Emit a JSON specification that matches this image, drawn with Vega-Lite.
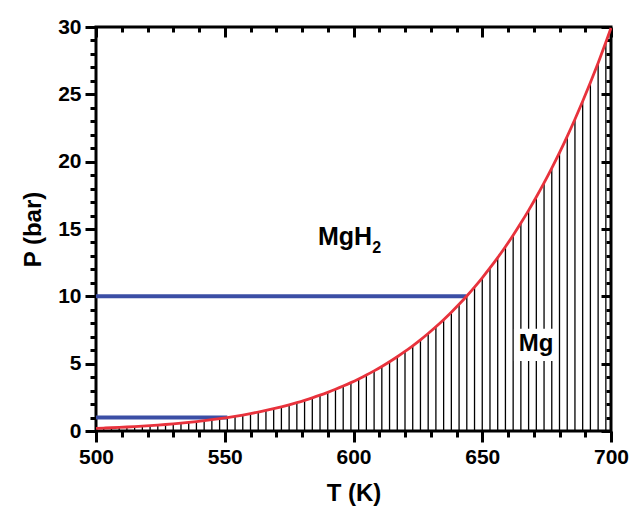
{
  "$schema": "https://vega.github.io/schema/vega-lite/v6.json",
  "width": 515,
  "height": 404,
  "autosize": "none",
  "padding": {"left": 96, "top": 27, "right": 20, "bottom": 77},
  "config": {
    "view": {"stroke": "black", "strokeWidth": 3},
    "font": "Liberation Sans",
    "axis": {"grid": false, "domain": false, "tickColor": "black", "tickWidth": 3, "labelOverlap": false, "labelFlush": false}
  },
  "datasets": {
    "curve": [
      {"T": 500, "P": 0.196}, {"T": 503, "P": 0.218}, {"T": 506, "P": 0.241}, {"T": 509, "P": 0.267},
      {"T": 512, "P": 0.296}, {"T": 515, "P": 0.327}, {"T": 518, "P": 0.361}, {"T": 521, "P": 0.398},
      {"T": 524, "P": 0.439}, {"T": 527, "P": 0.483}, {"T": 530, "P": 0.531}, {"T": 533, "P": 0.583},
      {"T": 536, "P": 0.639}, {"T": 539, "P": 0.700}, {"T": 542, "P": 0.766}, {"T": 545, "P": 0.838},
      {"T": 548, "P": 0.915}, {"T": 551, "P": 0.999}, {"T": 554, "P": 1.089}, {"T": 557, "P": 1.187},
      {"T": 560, "P": 1.291}, {"T": 563, "P": 1.404}, {"T": 566, "P": 1.525}, {"T": 569, "P": 1.656},
      {"T": 572, "P": 1.796}, {"T": 575, "P": 1.946}, {"T": 578, "P": 2.107}, {"T": 581, "P": 2.279},
      {"T": 584, "P": 2.463}, {"T": 587, "P": 2.660}, {"T": 590, "P": 2.871}, {"T": 593, "P": 3.096},
      {"T": 596, "P": 3.336}, {"T": 599, "P": 3.592}, {"T": 602, "P": 3.866}, {"T": 605, "P": 4.156},
      {"T": 608, "P": 4.465}, {"T": 611, "P": 4.794}, {"T": 614, "P": 5.144}, {"T": 617, "P": 5.515},
      {"T": 620, "P": 5.909}, {"T": 623, "P": 6.327}, {"T": 626, "P": 6.770}, {"T": 629, "P": 7.239},
      {"T": 632, "P": 7.736}, {"T": 635, "P": 8.262}, {"T": 638, "P": 8.819}, {"T": 641, "P": 9.408},
      {"T": 644, "P": 10.028}, {"T": 647, "P": 10.685}, {"T": 650, "P": 11.376}, {"T": 653, "P": 12.106},
      {"T": 656, "P": 12.876}, {"T": 659, "P": 13.686}, {"T": 662, "P": 14.540}, {"T": 665, "P": 15.439},
      {"T": 668, "P": 16.385}, {"T": 671, "P": 17.378}, {"T": 674, "P": 18.423}, {"T": 677, "P": 19.522},
      {"T": 680, "P": 20.673}, {"T": 683, "P": 21.884}, {"T": 686, "P": 23.152}, {"T": 689, "P": 24.482},
      {"T": 692, "P": 25.874}, {"T": 695, "P": 27.334}, {"T": 698, "P": 28.866}, {"T": 700, "P": 29.92}
    ],
    "iso": [
      {"P": 10, "T0": 500, "T1": 643.8},
      {"P": 1, "T0": 500, "T1": 551}
    ],
    "gap": [
      {"T0": 662.3, "T1": 679.4, "P0": 5.2, "P1": 7.6}
    ]
  },
  "resolve": {"axis": {"x": "independent", "y": "independent"}},
  "layer": [
    {
      "data": {"name": "curve"},
      "mark": {"type": "rule", "color": "black", "strokeWidth": 1.3},
      "encoding": {
        "x": {
          "field": "T", "type": "quantitative",
          "scale": {"domain": [500, 700], "nice": false, "zero": false},
          "axis": {
            "orient": "bottom",
            "values": [500,510,520,530,540,550,560,570,580,590,600,610,620,630,640,650,660,670,680,690,700],
            "labelExpr": "datum.value % 50 === 0 ? datum.label : ''",
            "tickSize": {"condition": {"test": "datum.value % 50 === 0", "value": 11}, "value": 6},
            "labelFont": "Liberation Sans", "labelFontWeight": "bold", "labelFontSize": 21, "labelColor": "black",
            "labelPadding": 4,
            "title": "T (K)", "titleFont": "Liberation Sans", "titleFontSize": 24, "titleFontWeight": "bold", "titleColor": "black",
            "titlePadding": 14
          }
        },
        "y": {
          "field": "P", "type": "quantitative",
          "scale": {"domain": [0, 30], "nice": false},
          "axis": {
            "orient": "left",
            "values": [0,1,2,3,4,5,6,7,8,9,10,11,12,13,14,15,16,17,18,19,20,21,22,23,24,25,26,27,28,29,30],
            "labelExpr": "datum.value % 5 === 0 ? datum.label : ''",
            "tickSize": {"condition": {"test": "datum.value % 5 === 0", "value": 11}, "value": 6},
            "labelFont": "Liberation Sans", "labelFontWeight": "bold", "labelFontSize": 21, "labelColor": "black",
            "labelPadding": 4,
            "title": "P (bar)", "titleFont": "Liberation Sans", "titleFontSize": 24, "titleFontWeight": "bold", "titleColor": "black",
            "titlePadding": 12
          }
        },
        "y2": {"datum": 0}
      }
    },
    {
      "data": {"name": "iso"},
      "mark": {"type": "rule", "color": "#3b4ea5", "strokeWidth": 4},
      "encoding": {
        "x": {"field": "T0", "type": "quantitative", "axis": null},
        "x2": {"field": "T1"},
        "y": {"field": "P", "type": "quantitative", "axis": null}
      }
    },
    {
      "data": {"name": "curve"},
      "mark": {"type": "line", "color": "#e8323c", "strokeWidth": 2.8, "interpolate": "monotone"},
      "encoding": {
        "x": {
          "field": "T", "type": "quantitative",
          "axis": {
            "orient": "top",
            "values": [500,510,520,530,540,550,560,570,580,590,600,610,620,630,640,650,660,670,680,690,700],
            "labels": false, "title": null,
            "tickSize": {"condition": {"test": "datum.value % 50 === 0", "value": -10}, "value": -5}
          }
        },
        "y": {
          "field": "P", "type": "quantitative",
          "axis": {
            "orient": "right",
            "values": [0,1,2,3,4,5,6,7,8,9,10,11,12,13,14,15,16,17,18,19,20,21,22,23,24,25,26,27,28,29,30],
            "labels": false, "title": null,
            "tickSize": {"condition": {"test": "datum.value % 5 === 0", "value": -10}, "value": -5}
          }
        }
      }
    },
    {
      "data": {"name": "gap"},
      "mark": {"type": "rect", "color": "white"},
      "encoding": {
        "x": {"field": "T0", "type": "quantitative", "axis": null},
        "x2": {"field": "T1"},
        "y": {"field": "P0", "type": "quantitative", "axis": null},
        "y2": {"field": "P1"}
      }
    },
    {
      "data": {"values": [{"T": 586.2, "P": 13.81, "label": "MgH"}]},
      "mark": {"type": "text", "align": "left", "baseline": "alphabetic", "font": "Liberation Sans", "fontWeight": "bold", "fontSize": 25, "color": "black"},
      "encoding": {
        "x": {"field": "T", "type": "quantitative", "axis": null},
        "y": {"field": "P", "type": "quantitative", "axis": null},
        "text": {"field": "label"}
      }
    },
    {
      "data": {"values": [{"T": 607.3, "P": 13.2, "label": "2"}]},
      "mark": {"type": "text", "align": "left", "baseline": "alphabetic", "font": "Liberation Sans", "fontWeight": "bold", "fontSize": 16, "color": "black"},
      "encoding": {
        "x": {"field": "T", "type": "quantitative", "axis": null},
        "y": {"field": "P", "type": "quantitative", "axis": null},
        "text": {"field": "label"}
      }
    },
    {
      "data": {"values": [{"T": 670.9, "P": 5.94, "label": "Mg"}]},
      "mark": {"type": "text", "align": "center", "baseline": "alphabetic", "font": "Liberation Sans", "fontWeight": "bold", "fontSize": 24, "color": "black"},
      "encoding": {
        "x": {"field": "T", "type": "quantitative", "axis": null},
        "y": {"field": "P", "type": "quantitative", "axis": null},
        "text": {"field": "label"}
      }
    }
  ]
}
